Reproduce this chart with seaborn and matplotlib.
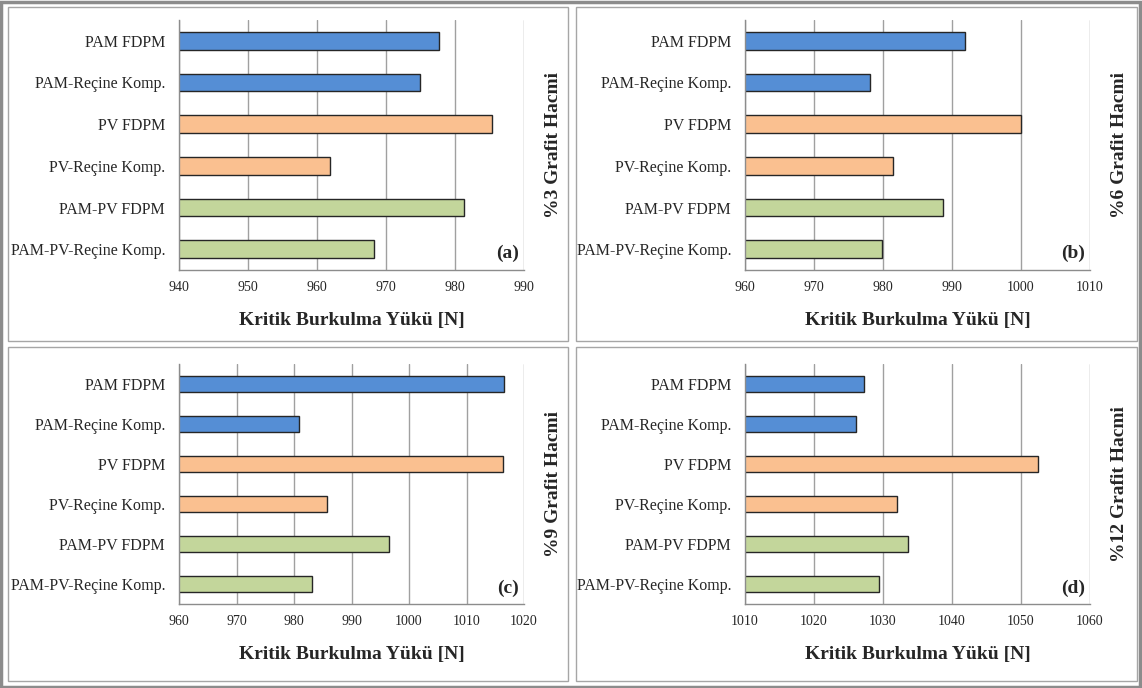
import matplotlib
matplotlib.use("Agg")
import matplotlib.pyplot as plt
import pandas as pd
import seaborn as sns
from matplotlib.patches import Rectangle

sns.set_theme(style="white")
plt.rcParams["font.family"] = ["Liberation Serif", "DejaVu Serif"]

CATEGORIES = [
    "PAM FDPM",
    "PAM-Reçine Komp.",
    "PV FDPM",
    "PV-Reçine Komp.",
    "PAM-PV FDPM",
    "PAM-PV-Reçine Komp.",
]
COLORS = ["#558ED5", "#558ED5", "#FAC090", "#FAC090", "#C3D69B", "#C3D69B"]

LOAD_3 = [977.7, 974.9, 985.4, 961.9, 981.3, 968.2]
LOAD_6 = [991.9, 978.1, 1000.0, 981.5, 988.7, 979.9]
LOAD_9 = [1016.5, 980.9, 1016.4, 985.7, 996.5, 983.2]
LOAD_12 = [1027.2, 1026.1, 1052.5, 1032.0, 1033.6, 1029.4]

PANELS = [
    ("%3 Grafit Hacmi", "(a)", LOAD_3, (940, 990)),
    ("%6 Grafit Hacmi", "(b)", LOAD_6, (960, 1010)),
    ("%9 Grafit Hacmi", "(c)", LOAD_9, (960, 1020)),
    ("%12 Grafit Hacmi", "(d)", LOAD_12, (1010, 1060)),
]

W, H = 1142, 688
fig = plt.figure(figsize=(W / 100, H / 100), dpi=100)


def px_axes(left, top, right, bottom):
    return fig.add_axes([left / W, 1 - bottom / H, (right - left) / W, (bottom - top) / H])


# panel frames and axes boxes, in pixels (left, top, right, bottom)
frames = [(8, 7, 568, 341), (576, 7, 1137, 341), (8, 347, 568, 681), (576, 347, 1137, 681)]
boxes = [(179, 20, 524, 270), (745, 20, 1090, 270), (179, 364, 524, 604), (745, 364, 1090, 604)]

fig.patches.append(Rectangle((1 / W, 1 / H), 1 - 3 / W, 1 - 3 / H, transform=fig.transFigure,
                             fill=False, edgecolor="#8c8c8c", linewidth=2.5))
for fl, ft, fr, fb in frames:
    fig.patches.append(Rectangle((fl / W, 1 - fb / H), (fr - fl) / W, (fb - ft) / H,
                                 transform=fig.transFigure, fill=False,
                                 edgecolor="#a6a6a6", linewidth=1.0))

for (side_label, tag, values, (lo, hi)), box in zip(PANELS, boxes):
    ax = px_axes(*box)
    df = pd.DataFrame({"label": CATEGORIES, "value": values})
    sns.barplot(data=df, y="label", x="value", hue="label", palette=COLORS,
                saturation=1, orient="h", width=0.42, edgecolor="#262626",
                linewidth=1.0, legend=False, ax=ax)
    ax.set_xlim(lo, hi)
    ax.set_xticks(range(lo, hi + 1, 10))
    ax.xaxis.grid(True, color="#a0a0a0", linewidth=1.0)
    ax.set_axisbelow(True)
    for s in ["top", "right"]:
        ax.spines[s].set_visible(False)
    for s in ["left", "bottom"]:
        ax.spines[s].set_color("#8c8c8c")
        ax.spines[s].set_linewidth(1.0)
    ax.tick_params(axis="y", length=0, pad=10, labelsize=11.5)
    ax.tick_params(axis="x", length=0, pad=8, labelsize=10)
    ax.set_ylabel("")
    ax.set_xlabel("Kritik Burkulma Yükü [N]", fontsize=14, fontweight="bold", labelpad=13)
    ax.text(0.985, 0.03, tag, transform=ax.transAxes, ha="right", va="bottom",
            fontsize=14, fontweight="bold")
    fig.text((box[2] + 30) / W, 1 - ((box[1] + box[3]) / 2) / H, side_label,
             rotation=90, ha="center", va="center", fontsize=14, fontweight="bold")

fig.savefig("out.png", dpi=100)
